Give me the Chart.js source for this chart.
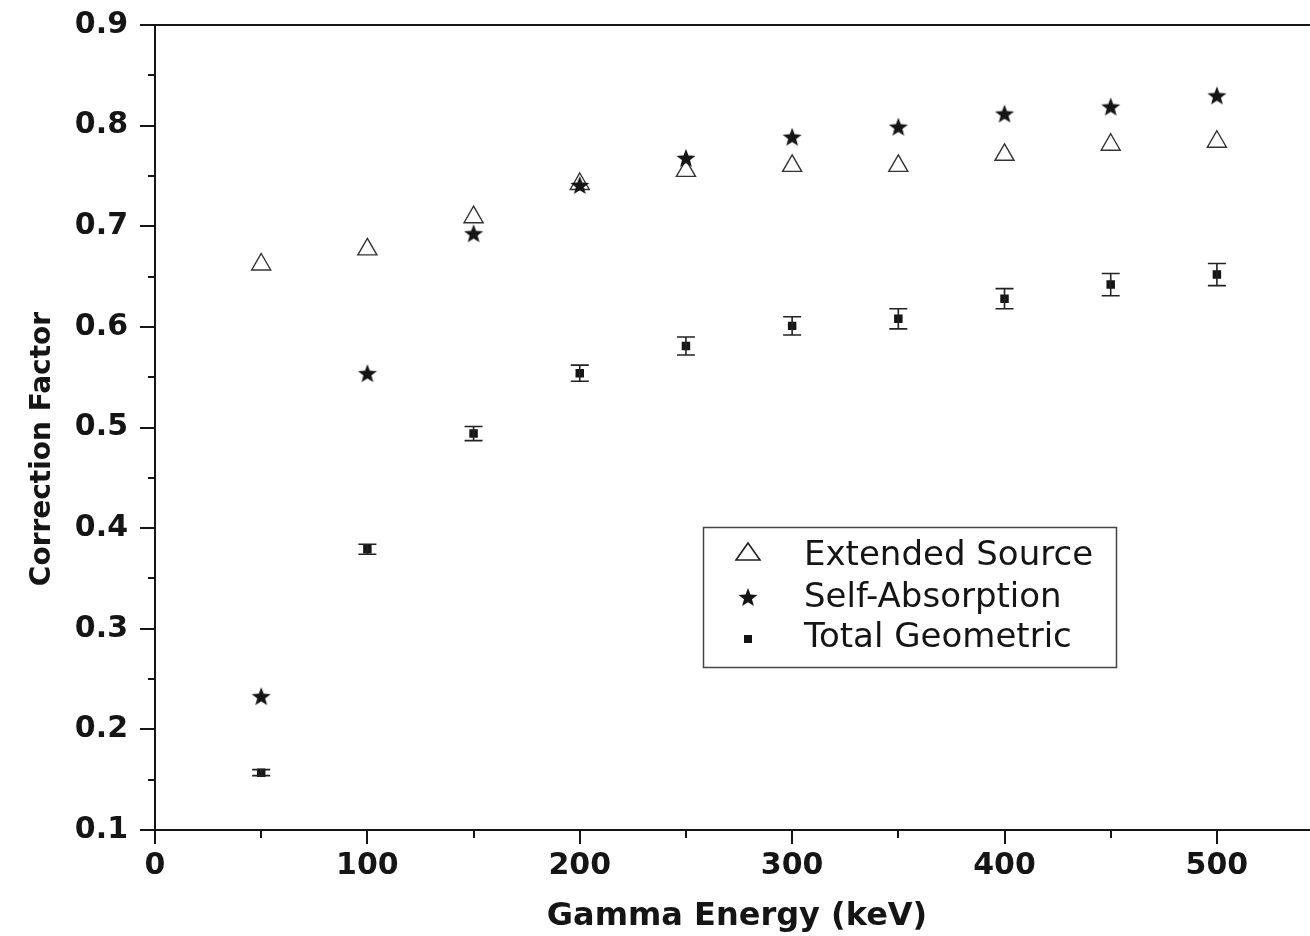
<!DOCTYPE html>
<html>
<head>
<meta charset="utf-8">
<title>Correction Factor vs Gamma Energy</title>
<script src="https://cdn.jsdelivr.net/npm/chart.js@4.4.1/dist/chart.umd.min.js"></script>
<style>
   html, body { margin: 0; padding: 0; background: #fff; }
</style>
</head>
<body>
<canvas id="myChart" width="1310" height="936"></canvas>
<script>
// values
const energies = [50, 100, 150, 200, 250, 300, 350, 400, 450, 500];
const extendedSource = [0.662, 0.677, 0.709, 0.742, 0.755, 0.760, 0.760, 0.771, 0.781, 0.784];
const selfAbsorption = [0.233, 0.554, 0.693, 0.741, 0.768, 0.789, 0.799, 0.812, 0.819, 0.830];
const totalGeometric = [0.157, 0.379, 0.494, 0.554, 0.581, 0.601, 0.608, 0.628, 0.642, 0.652];
const totalGeometricErr = [0.003, 0.005, 0.007, 0.008, 0.009, 0.009, 0.010, 0.010, 0.011, 0.011];
const xTicks = [0, 100, 200, 300, 400, 500];
const yTicks = [0.1, 0.2, 0.3, 0.4, 0.5, 0.6, 0.7, 0.8, 0.9];
const seriesNames = ["Extended Source", "Self-Absorption", "Total Geometric"];
const xTitle = "Gamma Energy (keV)";
const yTitle = "Correction Factor";

const ink = "#151515";

// filled 5 point star, chart.js "star" is only an outline
function makeStar(r) {
   let c = document.createElement("canvas");
   let size = Math.ceil(r * 2 + 2);
   c.width = size;
   c.height = size;
   let g = c.getContext("2d");
   g.fillStyle = ink;
   g.beginPath();
   for (let i = 0; i < 10; i++) {
      let rad = i % 2 == 0 ? r : r * 0.42;
      let a = -Math.PI / 2 + (i * Math.PI) / 5;
      g.lineTo(size / 2 + rad * Math.cos(a), size / 2 + 1 + rad * Math.sin(a));
   }
   g.closePath();
   g.fill();
   return c;
}
const star = makeStar(10);

function toPoints(ys) {
   return energies.map((x, i) => ({ x: x, y: ys[i] }));
}

// axis lines + major/minor ticks (outward) + axis titles
const axesPlugin = {
   id: "axesLines",
   afterDraw(chart) {
      const ctx = chart.ctx;
      const a = chart.chartArea;
      const xs = chart.scales.x;
      const ys = chart.scales.y;
      ctx.save();
      ctx.strokeStyle = ink;
      ctx.lineWidth = 2;
      ctx.beginPath();
      ctx.moveTo(a.left, a.top);
      ctx.lineTo(a.left, a.bottom);
      ctx.moveTo(a.left, a.bottom);
      ctx.lineTo(chart.width, a.bottom);
      ctx.moveTo(a.left - 15, a.top);
      ctx.lineTo(chart.width, a.top);
      ctx.stroke();

      ctx.beginPath();
      yTicks.forEach((v, i) => {
         let py = Math.round(ys.getPixelForValue(v));
         ctx.moveTo(a.left - 15, py);
         ctx.lineTo(a.left, py);
         if (i < yTicks.length - 1) {
            let my = Math.round(ys.getPixelForValue((v + yTicks[i + 1]) / 2));
            ctx.moveTo(a.left - 7, my);
            ctx.lineTo(a.left, my);
         }
      });
      xTicks.forEach((v, i) => {
         let px = Math.round(xs.getPixelForValue(v));
         ctx.moveTo(px, a.bottom);
         ctx.lineTo(px, a.bottom + 14);
         let mx = Math.round(xs.getPixelForValue(v + 50));
         if (mx < chart.width) {
            ctx.moveTo(mx, a.bottom);
            ctx.lineTo(mx, a.bottom + 8);
         }
      });
      ctx.stroke();

      // titles
      ctx.fillStyle = ink;
      ctx.textAlign = "center";
      ctx.textBaseline = "alphabetic";
      ctx.font = "bold 32px 'DejaVu Sans'";
      ctx.fillText(xTitle, 737, 925);
      ctx.translate(50, 449);
      ctx.rotate(-Math.PI / 2);
      ctx.font = "bold 28px 'DejaVu Sans'";
      ctx.fillText(yTitle, 0, 0);
      ctx.restore();
   },
};

// vertical error bars on the Total Geometric points
const errorBarPlugin = {
   id: "errorBars",
   afterDatasetsDraw(chart) {
      const ctx = chart.ctx;
      const xs = chart.scales.x;
      const ys = chart.scales.y;
      ctx.save();
      ctx.strokeStyle = "#222";
      ctx.lineWidth = 1.6;
      ctx.beginPath();
      energies.forEach((e, i) => {
         let px = xs.getPixelForValue(e);
         let top = ys.getPixelForValue(totalGeometric[i] + totalGeometricErr[i]);
         let bot = ys.getPixelForValue(totalGeometric[i] - totalGeometricErr[i]);
         ctx.moveTo(px, top);
         ctx.lineTo(px, bot);
         ctx.moveTo(px - 9, top);
         ctx.lineTo(px + 9, top);
         ctx.moveTo(px - 9, bot);
         ctx.lineTo(px + 9, bot);
      });
      ctx.stroke();
      ctx.restore();
   },
};

// boxed legend inside the plot
const legendBoxPlugin = {
   id: "legendBox",
   afterDraw(chart) {
      const ctx = chart.ctx;
      ctx.save();
      ctx.strokeStyle = "#444";
      ctx.lineWidth = 1.5;
      ctx.strokeRect(703.5, 527.5, 413, 140);

      let mx = 748;
      let rows = [553, 597, 639];
      // triangle
      ctx.strokeStyle = "#222";
      ctx.lineWidth = 1.6;
      ctx.beginPath();
      ctx.moveTo(mx, rows[0] - 10);
      ctx.lineTo(mx + 12, rows[0] + 7);
      ctx.lineTo(mx - 12, rows[0] + 7);
      ctx.closePath();
      ctx.stroke();
      // star
      ctx.drawImage(star, mx - star.width / 2, rows[1] - star.height / 2);
      // square
      ctx.fillStyle = ink;
      ctx.fillRect(mx - 4, rows[2] - 4, 8, 8);

      ctx.fillStyle = ink;
      ctx.font = "34px 'DejaVu Sans'";
      ctx.textBaseline = "alphabetic";
      ctx.textAlign = "left";
      ctx.fillText(seriesNames[0], 804, 565);
      ctx.fillText(seriesNames[1], 804, 607);
      ctx.fillText(seriesNames[2], 804, 647);
      ctx.restore();
   },
};

const ctx = document.getElementById("myChart");
new Chart(ctx, {
   type: "scatter",
   data: {
      datasets: [
         {
            label: seriesNames[0],
            data: toPoints(extendedSource),
            pointStyle: "triangle",
            pointRadius: 11,
            pointBorderWidth: 1.4,
            borderColor: "#333",
            backgroundColor: "rgba(255,255,255,0)",
            order: 1,
         },
         {
            label: seriesNames[1],
            data: toPoints(selfAbsorption),
            pointStyle: star,
            pointRadius: 10,
            order: 0,
         },
         {
            label: seriesNames[2],
            data: toPoints(totalGeometric),
            pointStyle: "rect",
            pointRadius: 6,
            pointBorderWidth: 0,
            borderColor: ink,
            backgroundColor: ink,
            order: 2,
         },
      ],
   },
   options: {
      responsive: false,
      animation: false,
      devicePixelRatio: 1,
      layout: { padding: { top: 25, right: 0, left: 0, bottom: 0 } },
      plugins: {
         legend: { display: false },
         tooltip: { enabled: false },
      },
      scales: {
         x: {
            type: "linear",
            position: "bottom",
            min: 0,
            max: 538,
            afterBuildTicks: (scale) => {
               scale.ticks = xTicks.map((v) => ({ value: v }));
            },
            afterFit: (scale) => {
               scale.height = 106;
            },
            grid: { display: false, drawTicks: false },
            border: { display: false },
            ticks: {
               autoSkip: false,
               maxRotation: 0,
               padding: 18,
               color: ink,
               font: { family: "DejaVu Sans", weight: "bold", size: 30 },
            },
            title: { display: false },
         },
         y: {
            type: "linear",
            min: 0.1,
            max: 0.9,
            afterBuildTicks: (scale) => {
               scale.ticks = yTicks.map((v) => ({ value: v }));
            },
            afterFit: (scale) => {
               scale.width = 155;
               scale.paddingTop = 0;
               scale.paddingBottom = 0;
            },
            grid: { display: false, drawTicks: false },
            border: { display: false },
            ticks: {
               autoSkip: false,
               padding: 27,
               color: ink,
               font: { family: "DejaVu Sans", weight: "bold", size: 30 },
               callback: (v) => Number(v).toFixed(1),
            },
            title: { display: false },
         },
      },
   },
   plugins: [errorBarPlugin, axesPlugin, legendBoxPlugin],
});
</script>
</body>
</html>
